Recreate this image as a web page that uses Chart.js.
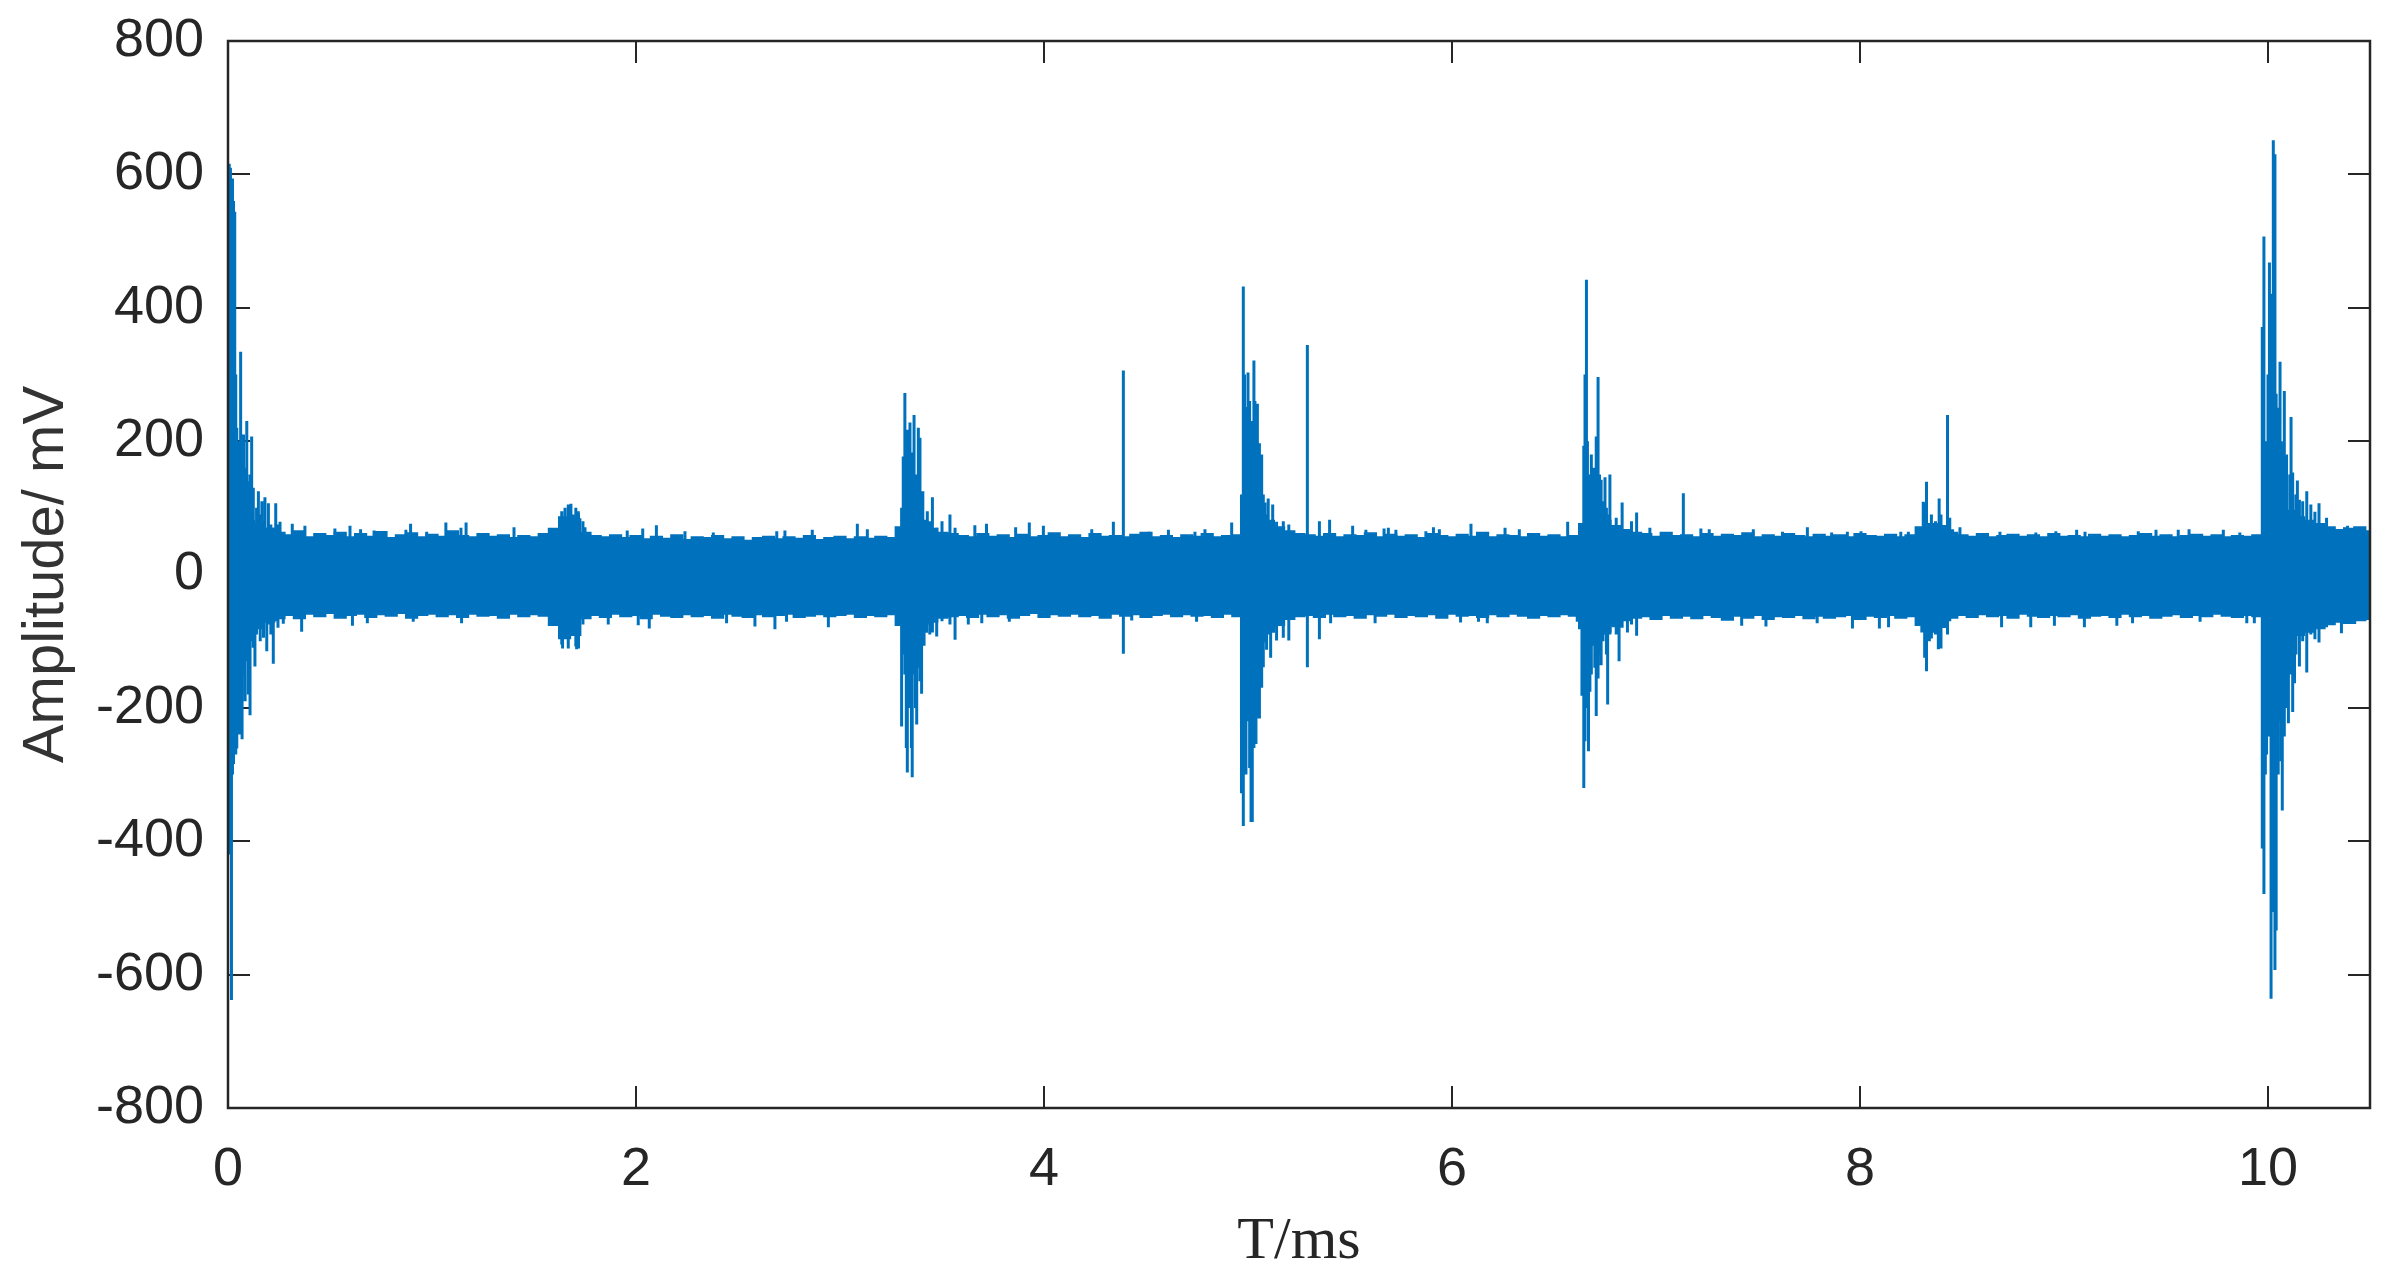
<!DOCTYPE html>
<html>
<head>
<meta charset="utf-8">
<script src="https://cdn.jsdelivr.net/npm/chart.js@4.4.1/dist/chart.umd.min.js"></script>
<style>
  html, body { margin: 0; padding: 0; background: #ffffff; }
  #wrap { width: 2404px; height: 1284px; }
</style>
</head>
<body>
<div id="wrap"><canvas id="signalChart" width="2404" height="1284"></canvas></div>
<script>
// tick labels
const xTicks = [0, 2, 4, 6, 8, 10];
const yTicks = [-800, -600, -400, -200, 0, 200, 400, 600, 800];

// noise band, one value every 0.05 ms (0 .. 10.5 ms)
const bandStep = 0.05;
const bandUpper = [
  90, 85, 80, 75, 68, 62,
  58, 64, 55, 60, 57, 62, 55, 60, 56, 63, 54, 58, 61, 55, 59, 56, 64, 57, 55, 60, 56, 58, 54, 57, 55, 60,
  68, 85, 82, 62,
  57, 55, 58, 54, 57, 52, 56, 53, 58, 51, 55, 54, 57, 52, 55, 50, 54, 56, 52, 55, 53, 57, 51, 54, 56, 52, 55, 53, 56, 54,
  70, 90, 80, 68, 62, 60,
  57, 55, 60, 56, 58, 54, 59, 55, 57, 61, 55, 58, 54, 60, 56, 57, 55, 59, 62, 55, 57, 54, 58, 56, 60, 55, 57, 58,
  75, 95, 80, 70, 64, 60,
  58, 56, 60, 55, 58, 57, 61, 55, 59, 56, 58, 54, 60, 57, 55, 59, 56, 62, 55, 58, 57, 55, 60, 56, 58, 55, 57,
  75, 95, 80, 72, 66, 62,
  60, 56, 62, 57, 58, 55, 60, 56, 59, 57, 61, 55, 58, 56, 60, 57, 55, 59, 56, 58, 55, 60, 57, 56, 59, 55, 58,
  70, 75, 72, 62,
  58, 56, 60, 55, 57, 59, 56, 58, 55, 60, 56, 57, 55, 59, 56, 58, 55, 57, 60, 56, 58, 55, 57, 59, 56, 58, 55, 57, 56, 58,
  90, 110, 95, 85, 80, 75, 70, 66, 68, 70, 64
];
const bandLower = [
  -95, -90, -85, -80, -70, -65,
  -60, -65, -58, -62, -57, -64, -60, -58, -63, -59, -61, -57, -64, -60, -58, -62, -59, -63, -58, -61, -60, -64, -58, -62, -59, -61,
  -75, -95, -90, -65,
  -60, -63, -58, -62, -60, -65, -58, -61, -63, -59, -62, -60, -64, -58, -61, -63, -59, -62, -60, -58, -63, -61, -59, -62, -60, -58, -63, -60, -62, -59,
  -75, -100, -85, -70, -64, -62,
  -60, -63, -58, -62, -59, -64, -60, -57, -63, -59, -61, -58, -62, -60, -64, -58, -61, -59, -63, -60, -58, -62, -59, -61, -60, -63, -58, -62,
  -80, -100, -85, -75, -66, -62,
  -60, -63, -58, -62, -60, -64, -59, -61, -58, -63, -60, -62, -59, -64, -58, -61, -60, -63, -59, -62, -58, -61, -64, -60, -62, -59, -61,
  -80, -100, -85, -75, -68, -64,
  -62, -66, -60, -64, -61, -65, -60, -63, -67, -61, -64, -60, -66, -62, -63, -60, -65, -61, -64, -62, -60, -66, -61, -63, -60, -64, -62,
  -75, -85, -78, -64,
  -60, -63, -59, -62, -60, -64, -58, -61, -63, -60, -62, -59, -64, -61, -60, -63, -58, -62, -60, -64, -61, -59, -63, -60, -62, -58, -61, -63, -60, -62,
  -95, -115, -100, -90, -85, -80, -74, -70, -72, -68, -66
];

// single noise samples that poke out of the band: [time ms, mV]
const tipsUp = [
  [0.255, 79], [0.315, 76], [0.377, 73], [0.524, 69], [0.598, 73], [0.650, 68], [0.716, 66], [0.872, 67],
  [0.895, 76], [0.974, 64], [1.068, 78], [1.142, 70], [1.167, 78], [1.402, 71], [1.681, 106], [1.717, 95],
  [1.750, 71], [1.957, 66], [2.033, 69], [2.100, 74], [2.240, 65], [2.379, 63], [2.690, 65], [2.730, 66],
  [2.864, 67], [3.085, 76], [3.134, 68], [3.661, 74], [3.718, 76], [3.861, 71], [3.928, 78], [3.997, 73],
  [4.234, 68], [4.340, 79], [4.516, 64], [4.610, 67], [4.740, 64], [4.789, 68], [4.920, 78], [5.350, 80],
  [5.400, 82], [5.513, 73], [5.578, 67], [5.667, 69], [5.688, 70], [5.725, 67], [5.872, 65], [5.909, 71],
  [5.938, 68], [6.093, 76], [6.260, 70], [6.330, 68], [6.567, 79], [6.970, 70], [7.220, 69], [7.261, 68],
  [7.477, 68], [7.620, 64], [7.742, 71], [7.861, 63], [7.938, 64], [8.005, 65], [8.200, 64], [8.237, 64],
  [8.310, 109], [8.454, 68], [8.490, 71], [8.686, 64], [8.862, 63], [8.960, 65], [9.062, 67], [9.103, 64],
  [9.364, 65], [9.451, 67], [9.560, 67], [9.613, 68], [9.781, 67], [9.862, 63]
];
const tipsDown = [
  [0.271, -74], [0.361, -86], [0.610, -77], [0.683, -73], [0.908, -71], [1.145, -73], [1.640, -111], [1.709, -112],
  [1.864, -75], [2.011, -76], [2.065, -81], [2.444, -73], [2.583, -78], [2.681, -82], [2.738, -71], [2.943, -79],
  [3.629, -75], [3.695, -73], [3.830, -71], [4.430, -69], [4.748, -71], [5.350, -97], [5.405, -73], [5.623, -73],
  [6.042, -72], [6.130, -71], [6.173, -73], [6.614, -71], [7.420, -77], [7.539, -78], [7.790, -73], [7.963, -81],
  [8.095, -81], [8.140, -79], [8.303, -87], [8.384, -112], [8.694, -79], [8.837, -79], [8.953, -77], [9.100, -79],
  [9.259, -77], [9.336, -73], [9.667, -71], [9.896, -73], [9.933, -73]
];

// discharge bursts: [time ms, peak mV, trough mV]
const burstStart = [
  [0.001, 262, -30], [0.006, 616, -200], [0.012, 610, -420], [0.017, 590, -638],
  [0.022, 594, -300], [0.027, 560, -284], [0.033, 544, -200], [0.038, 300, -270],
  [0.043, 220, -261], [0.050, 180, -230], [0.056, 200, -240], [0.062, 334, -180],
  [0.069, 150, -247], [0.076, 210, -150], [0.084, 160, -190], [0.092, 230, -130],
  [0.100, 140, -180], [0.108, 150, -211], [0.116, 207, -100], [0.124, 130, -110],
  [0.132, 70, -138], [0.140, 100, -90], [0.149, 125, -80], [0.158, 90, -100],
  [0.166, 110, -75], [0.174, 80, -95], [0.181, 116, -70], [0.190, 70, -115],
  [0.198, 107, -75], [0.210, 75, -90], [0.222, 70, -134], [0.234, 107, -70], [0.245, 75, -80]
];
const burst1p6 = [
  [1.636, 95, -105], [1.652, 100, -95], [1.668, 105, -111], [1.690, 90, -80],
  [1.705, 100, -108], [1.718, 92, -111], [1.740, 80, -75]
];
const burst3p3 = [
  [3.302, 100, -228], [3.310, 177, -120], [3.318, 272, -150], [3.325, 200, -260],
  [3.330, 217, -297], [3.337, 150, -200], [3.343, 228, -180], [3.350, 183, -260],
  [3.354, 160, -304], [3.363, 239, -150], [3.370, 130, -200], [3.376, 150, -225],
  [3.384, 220, -140], [3.392, 205, -160], [3.400, 100, -179], [3.406, 125, -100],
  [3.412, 80, -107], [3.428, 95, -75], [3.440, 80, -90], [3.453, 116, -87],
  [3.474, 70, -93], [3.500, 80, -70], [3.539, 90, -75], [3.564, 70, -98]
];
const spike4p4 = [[4.389, 306, -119]];
const burst5p0 = [
  [4.968, 120, -328], [4.977, 432, -377], [4.983, 300, -250], [4.990, 251, -300],
  [4.995, 200, -220], [5.000, 303, -202], [5.008, 260, -290], [5.015, 230, -371],
  [5.021, 200, -371], [5.029, 321, -260], [5.034, 260, -240], [5.039, 220, -254],
  [5.046, 256, -180], [5.051, 180, -216], [5.056, 197, -216], [5.062, 170, -150],
  [5.067, 180, -170], [5.075, 120, -139], [5.083, 108, -100], [5.091, 90, -113],
  [5.099, 114, -90], [5.111, 80, -125], [5.121, 105, -80], [5.140, 79, -99],
  [5.173, 80, -95], [5.200, 75, -99]
];
const spike5p3 = [[5.291, 344, -139]];
const burst6p6 = [
  [6.637, 62, -182], [6.646, 193, -320], [6.652, 300, -250], [6.659, 442, -100],
  [6.664, 200, -200], [6.669, 150, -265], [6.676, 100, -176], [6.683, 180, -150],
  [6.693, 160, -107], [6.700, 120, -140], [6.707, 207, -212], [6.716, 296, -156],
  [6.723, 150, -120], [6.731, 142, -136], [6.740, 110, -100], [6.750, 146, -90],
  [6.757, 100, -120], [6.763, 90, -195], [6.774, 150, -90], [6.790, 69, -79],
  [6.805, 85, -90], [6.819, 70, -130], [6.834, 108, -80], [6.860, 62, -87],
  [6.880, 80, -75], [6.905, 93, -92]
];
const spike7p1 = [[7.134, 122, -50]];
const burst8p3 = [
  [8.317, 108, -125], [8.326, 139, -145], [8.340, 76, -100], [8.350, 90, -96],
  [8.370, 80, -90], [8.388, 114, -110], [8.397, 90, -111], [8.429, 239, -90], [8.440, 85, -70]
];
const burst10p0 = [
  [9.972, 371, -411], [9.980, 507, -479], [9.987, 200, -300], [9.993, 162, -270],
  [10.000, 300, -200], [10.007, 468, -243], [10.015, 421, -636], [10.020, 350, -400],
  [10.026, 651, -506], [10.034, 630, -593], [10.040, 271, -534], [10.050, 250, -300],
  [10.059, 319, -220], [10.065, 200, -280], [10.070, 194, -354], [10.080, 275, -243],
  [10.086, 180, -200], [10.091, 180, -161], [10.100, 75, -223], [10.107, 150, -150],
  [10.113, 236, -140], [10.121, 153, -206], [10.130, 94, -163], [10.137, 120, -120],
  [10.144, 141, -80], [10.154, 112, -138], [10.170, 110, -100], [10.190, 125, -147],
  [10.210, 105, -90], [10.230, 94, -97], [10.250, 107, -102], [10.287, 85, -79],
  [10.330, 65, -70], [10.360, 65, -88], [10.375, 71, -60], [10.390, 73, -70]
];

const lineColor = '#0072BD';
const axisColor = '#262626';

const bandTop = bandUpper.map((v, i) => ({ x: +(i * bandStep).toFixed(2), y: v }));
const bandBottom = bandLower.map((v, i) => ({ x: +(i * bandStep).toFixed(2), y: v }));

// each burst entry becomes a vertical stroke, separated by gaps
const spikePoints = [];
[burstStart, burst1p6, burst3p3, spike4p4, burst5p0, spike5p3, burst6p6, spike7p1, burst8p3, burst10p0]
  .forEach(group => group.forEach(([t, hi, lo]) => {
    spikePoints.push({ x: t, y: hi }, { x: t, y: lo }, { x: t, y: null });
  }));
tipsUp.concat(tipsDown).forEach(([t, v]) => {
  spikePoints.push({ x: t, y: 0 }, { x: t, y: v }, { x: t, y: null });
});

// box and inward tick marks like the original plot
const axesBox = {
  id: 'axesBox',
  beforeDatasetsDraw(chart) {
    const { ctx, chartArea: a, scales: { x, y } } = chart;
    const len = 22;
    ctx.save();
    ctx.strokeStyle = axisColor;
    ctx.lineWidth = 2;
    ctx.beginPath();
    xTicks.forEach(v => {
      const px = Math.round(x.getPixelForValue(v));
      ctx.moveTo(px, a.bottom); ctx.lineTo(px, a.bottom - len);
      ctx.moveTo(px, a.top); ctx.lineTo(px, a.top + len);
    });
    yTicks.forEach(v => {
      const py = Math.round(y.getPixelForValue(v));
      ctx.moveTo(a.left, py); ctx.lineTo(a.left + len, py);
      ctx.moveTo(a.right, py); ctx.lineTo(a.right - len, py);
    });
    ctx.stroke();
    ctx.restore();
  },
  afterDatasetsDraw(chart) {
    const { ctx, chartArea: a } = chart;
    ctx.save();
    ctx.strokeStyle = axisColor;
    ctx.lineWidth = 2.5;
    ctx.strokeRect(a.left, a.top, a.right - a.left, a.bottom - a.top);
    ctx.restore();
  }
};

const ctx = document.getElementById('signalChart').getContext('2d');
new Chart(ctx, {
  type: 'line',
  data: {
    datasets: [
      {
        data: bandTop,
        borderColor: lineColor,
        backgroundColor: lineColor,
        borderWidth: 3,
        pointRadius: 0,
        fill: '+1',
        stepped: 'middle'
      },
      {
        data: bandBottom,
        borderColor: lineColor,
        borderWidth: 3,
        pointRadius: 0,
        fill: false,
        stepped: 'middle'
      },
      {
        data: spikePoints,
        borderColor: lineColor,
        borderWidth: 3,
        pointRadius: 0,
        fill: false,
        spanGaps: false
      }
    ]
  },
  options: {
    responsive: false,
    animation: false,
    devicePixelRatio: 1,
    events: [],
    layout: { padding: { top: 41, right: 34, left: 0, bottom: 0 } },
    plugins: {
      legend: { display: false },
      tooltip: { enabled: false }
    },
    scales: {
      x: {
        type: 'linear',
        min: 0,
        max: 10.5,
        grid: { display: false, drawTicks: false },
        border: { display: false },
        afterBuildTicks: scale => { scale.ticks = xTicks.map(v => ({ value: v })); },
        afterFit: scale => {
          scale.height = 176;
          scale.paddingLeft = 0;
          scale.paddingRight = 0;
        },
        ticks: {
          padding: 30,
          color: axisColor,
          maxRotation: 0,
          font: { family: '"Liberation Sans", Arial, sans-serif', size: 54 }
        },
        title: {
          display: true,
          text: 'T/ms',
          color: axisColor,
          padding: { top: 0, bottom: 6 },
          font: { family: '"Liberation Serif", "Times New Roman", serif', size: 60 }
        }
      },
      y: {
        type: 'linear',
        min: -800,
        max: 800,
        grid: { display: false, drawTicks: false },
        border: { display: false },
        afterBuildTicks: scale => { scale.ticks = yTicks.map(v => ({ value: v })); },
        afterFit: scale => {
          scale.width = 228;
          scale.paddingTop = 0;
          scale.paddingBottom = 0;
        },
        ticks: {
          padding: 24,
          color: axisColor,
          font: { family: '"Liberation Sans", Arial, sans-serif', size: 54 }
        },
        title: {
          display: true,
          text: 'Amplitude/ mV',
          color: '#333333',
          padding: { top: 12, bottom: 0 },
          font: { family: '"Liberation Sans", Arial, sans-serif', size: 58 }
        }
      }
    }
  },
  plugins: [axesBox]
});
</script>
</body>
</html>
